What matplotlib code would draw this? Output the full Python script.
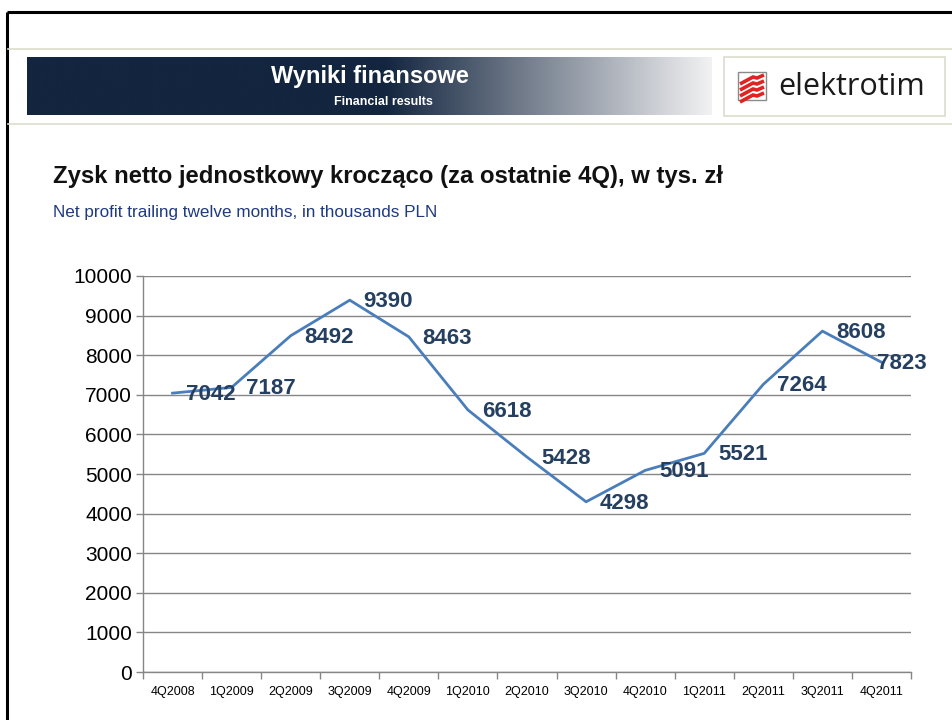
import numpy as np
import matplotlib
matplotlib.use("Agg")
import matplotlib.pyplot as plt
from matplotlib.patches import Rectangle

quarters = ['4Q2008', '1Q2009', '2Q2009', '3Q2009', '4Q2009', '1Q2010', '2Q2010',
            '3Q2010', '4Q2010', '1Q2011', '2Q2011', '3Q2011', '4Q2011']
profit = [7042, 7187, 8492, 9390, 8463, 6618, 5428, 4298, 5091, 5521, 7264, 8608, 7823]
yticks = [0, 1000, 2000, 3000, 4000, 5000, 6000, 7000, 8000, 9000, 10000]

title = 'Zysk netto jednostkowy krocząco (za ostatnie 4Q), w tys. zł'
subtitle = 'Net profit trailing twelve months, in thousands PLN'

W, H = 952, 720
fig = plt.figure(figsize=(W / 100, H / 100), dpi=100)
fig.patch.set_facecolor('white')

# background layer in pixel coordinates (y down)
bg = fig.add_axes([0, 0, 1, 1])
bg.axis('off')

# page frame
bg.plot([7, W], [12, 12], color='black', lw=2.2, solid_capstyle='butt')
bg.plot([7, 7], [12, H], color='black', lw=2.2, solid_capstyle='butt')
bg.plot([8, W], [48.5, 48.5], color='#dcdccc', lw=1.2)
bg.plot([8, W], [123.5, 123.5], color='#dcdccc', lw=1.2)

# banner with gradient
n = 700
xs = np.linspace(27, 712, n)
navy = np.array([0x13, 0x25, 0x3f]) / 255
light = np.array([0xf2, 0xf2, 0xf3]) / 255
t = np.clip((xs - 385) / (712 - 385), 0, 1)
grad = navy[None, :] * (1 - t[:, None]) + light[None, :] * t[:, None]
bg.imshow(grad[None, :, :], extent=[27, 712, 115, 57], aspect='auto', zorder=1)
bg.set_xlim(0, W)
bg.set_ylim(H, 0)
bg.text(370, 77, 'Wyniki finansowe', color='white', fontsize=17, fontweight='bold',
        family=['Liberation Sans'], ha='center', va='center', zorder=3)
bg.text(383, 102, 'Financial results', color='white', fontsize=9, fontweight='bold',
        family=['Liberation Sans'], ha='center', va='center', zorder=3)

# logo
bg.add_patch(Rectangle((723.5, 56.5), 221, 59, fill=False, ec='#dcdccc', lw=1.2))
bg.add_patch(Rectangle((738, 72), 28, 28, fill=False, ec='#8a8a8a', lw=1))
for k in range(4):
    y0 = 77 + k * 6
    bg.plot([740, 753, 757, 764], [y0 + 7, y0, y0 + 1, y0 - 2], color='#e02424',
            lw=2.6, solid_capstyle='butt', solid_joinstyle='miter')
bg.text(778, 87, 'elektrotim', color='#1a1a1a', fontsize=22, family=['Open Sans'],
        ha='left', va='center')

# titles
bg.text(53, 176, title, fontsize=17.2, fontweight='bold', family=['Liberation Sans'],
        color='#111111', ha='left', va='center')
bg.text(53, 213, subtitle, fontsize=12.3, family=['Liberation Sans'],
        color='#1f3a80', ha='left', va='center')

# chart
ax = fig.add_axes([143 / W, (H - 672) / H, (911 - 143) / W, (672 - 276) / H])
ax.set_facecolor('none')
x = np.arange(len(quarters))
ax.plot(x, profit, color='#4a7ebb', lw=2.0, zorder=3, clip_on=False)
for i, v in enumerate(profit):
    dx = 10 if i < len(profit) - 1 else -3
    ax.annotate(str(v), (x[i], v), xytext=(dx, -1), textcoords='offset points',
                ha='left', va='center', fontsize=16, fontweight='bold',
                family=['Liberation Sans'], color='#243f60', zorder=4,
                annotation_clip=False)

ax.set_xlim(-0.5, len(quarters) - 0.5)
ax.set_ylim(0, 10000)
ax.set_yticks(yticks)
ax.set_yticklabels([str(v) for v in yticks], fontsize=15, family=['Liberation Sans'])
ax.set_xticks(x)
ax.set_xticklabels(quarters, fontsize=9, family=['Liberation Sans'])
ax.set_xticks(np.arange(-0.5, len(quarters)), minor=True)
ax.tick_params(axis='x', which='major', length=0, pad=10)
ax.tick_params(axis='x', which='minor', length=5, color='#868686', width=1)
ax.tick_params(axis='y', length=5, color='#868686', width=1, pad=3)
ax.yaxis.grid(True, color='#868686', lw=1)
ax.set_axisbelow(True)
for s in ['top', 'right']:
    ax.spines[s].set_visible(False)
for s in ['left', 'bottom']:
    ax.spines[s].set_color('#868686')
    ax.spines[s].set_linewidth(1)

fig.savefig('out.png', dpi=100)
